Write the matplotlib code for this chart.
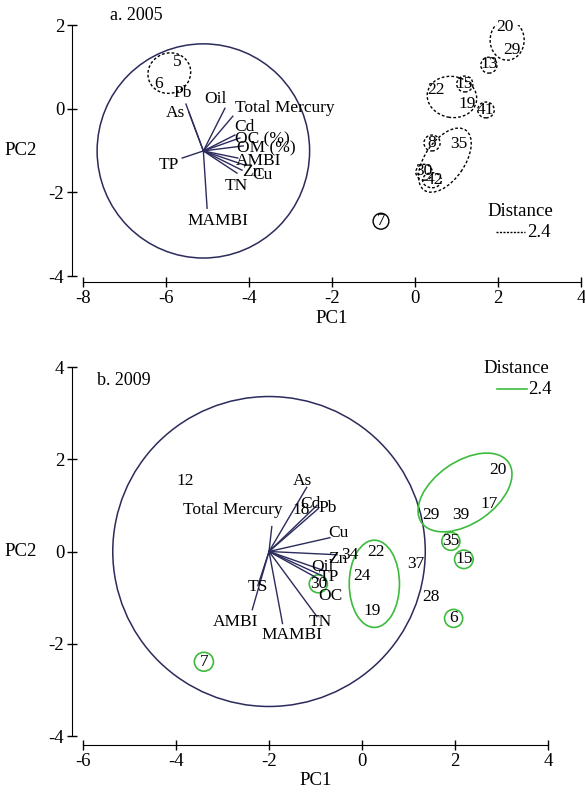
import matplotlib.pyplot as plt
from matplotlib.patches import Ellipse

plt.rcParams['font.family'] = ['Liberation Serif', 'DejaVu Serif']
plt.rcParams['font.size'] = 12.5

NAVY = '#2b2b5c'
GREEN = '#3dbb3d'

# ---- 2005 ----
origin05 = (-5.10, -1.01)
circle05_r = 2.56
vars05 = ['Pb', 'As', 'Oil', 'Total Mercury', 'Cd', 'OC (%)', 'OM (%)', 'AMBI', 'Zn', 'Cu', 'TN', 'TP', 'MAMBI']
vx05 = [-5.52, -5.45, -4.58, -4.39, -4.34, -4.22, -4.14, -4.27, -4.10, -4.17, -4.29, -5.61, -5.01]
vy05 = [0.11, -0.08, 0.01, -0.18, -0.63, -0.70, -0.89, -1.18, -1.35, -1.47, -1.54, -1.18, -2.38]
lx05 = [-5.59, -5.78, -4.80, -3.13, -4.10, -3.69, -3.59, -3.76, -3.93, -3.69, -4.31, -5.93, -4.75]
ly05 = [0.37, -0.11, 0.23, 0.01, -0.44, -0.73, -0.94, -1.25, -1.52, -1.59, -1.85, -1.35, -2.69]

sites05 = ['5', '6', '20', '29', '13', '22', '15', '19', '41', '8', '35', '30', '42', '7']
sx05 = [-5.73, -6.17, 2.17, 2.34, 1.78, 0.51, 1.18, 1.25, 1.69, 0.39, 1.06, 0.22, 0.46, -0.82]
sy05 = [1.11, 0.59, 1.95, 1.40, 1.07, 0.44, 0.59, 0.11, -0.03, -0.82, -0.85, -1.49, -1.71, -2.69]

# clusters: center x, center y, width, height, angle
clusters05 = [(-5.92, 0.85, 1.04, 0.96, 20), (2.22, 1.64, 0.82, 0.96, 0),
              (1.78, 1.04, 0.39, 0.38, 0), (0.89, 0.28, 1.20, 0.98, -10),
              (1.20, 0.59, 0.39, 0.38, 0), (1.71, -0.03, 0.40, 0.38, 0),
              (0.72, -1.23, 1.75, 0.95, 55), (0.41, -0.82, 0.39, 0.38, 0),
              (0.22, -1.52, 0.40, 0.38, 0), (0.41, -1.71, 0.45, 0.36, 0)]
single05 = (-0.82, -2.69, 0.38, 0.38)

# ---- 2009 ----
origin09 = (-2.0, 0.0)
circle09_r = 3.36
vars09 = ['As', 'Cd', 'Pb', 'Total Mercury', 'Cu', 'Zn', 'Oil', 'TP', 'OC', 'TN', 'TS', 'AMBI', 'MAMBI']
vx09 = [-1.19, -0.97, -0.94, -1.94, -0.69, -0.54, -0.83, -0.87, -0.94, -0.97, -2.24, -2.36, -1.71]
vy09 = [1.39, 1.00, 0.93, 0.54, 0.30, -0.07, -0.41, -0.52, -0.59, -1.41, -0.74, -1.26, -1.56]
lx09 = [-1.28, -1.12, -0.75, -2.78, -0.51, -0.51, -0.85, -0.72, -0.69, -0.90, -2.23, -2.71, -1.51]
ly09 = [1.52, 1.04, 0.94, 0.89, 0.40, -0.16, -0.34, -0.56, -0.97, -1.53, -0.77, -1.53, -1.82]

sites09 = ['12', '18', '34', '30', '22', '24', '19', '37', '28', '6', '29', '39', '17', '20', '35', '15', '7']
sx09 = [-3.81, -1.30, -0.27, -0.92, 0.30, -0.01, 0.21, 1.16, 1.48, 1.97, 1.48, 2.13, 2.74, 2.93, 1.91, 2.20, -3.40]
sy09 = [1.52, 0.89, -0.07, -0.70, -0.02, -0.54, -1.29, -0.28, -0.99, -1.45, 0.80, 0.80, 1.02, 1.76, 0.22, -0.16, -2.39]

clusters09 = [(0.265, -0.70, 1.08, 1.89, 0), (2.215, 1.28, 2.28, 1.34, 35),
              (1.91, 0.22, 0.39, 0.39, 0), (2.19, -0.17, 0.40, 0.40, 0),
              (1.97, -1.45, 0.39, 0.39, 0), (-0.94, -0.70, 0.39, 0.39, 0),
              (-3.40, -2.39, 0.41, 0.41, 0)]


def style_axes(ax, xlim, ylim, xticks, yticks, offset_x, offset_y):
    ax.set_xlim(xlim)
    ax.set_ylim(ylim)
    ax.set_xticks(xticks)
    ax.set_yticks(yticks)
    ax.set_xticklabels([str(t) for t in xticks])
    ax.set_yticklabels([str(t) for t in yticks])
    for s in ['top', 'right']:
        ax.spines[s].set_visible(False)
    ax.spines['left'].set_position(('outward', offset_x))
    ax.spines['bottom'].set_position(('outward', offset_y))
    ax.tick_params(direction='inout', length=7, width=1, labelsize=13.5, pad=2)


def draw_biplot(ax, origin, r, vx, vy, vars_, lx, ly):
    ax.add_patch(Ellipse(origin, 2 * r, 2 * r, fill=False, ec=NAVY, lw=1.1))
    for x, y in zip(vx, vy):
        ax.plot([origin[0], x], [origin[1], y], color=NAVY, lw=1)
    for name, x, y in zip(vars_, lx, ly):
        ax.text(x, y, name, ha='center', va='center', fontsize=12.5)


fig = plt.figure(figsize=(5.85, 7.92), dpi=100)

# top panel
ax1 = fig.add_axes([0.1419, 0.6515, 0.8513, 0.3169])
style_axes(ax1, (-8, 4), (-4, 2), [-8, -6, -4, -2, 0, 2, 4], [-4, -2, 0, 2], 8, 4.5)
draw_biplot(ax1, origin05, circle05_r, vx05, vy05, vars05, lx05, ly05)
for name, x, y in zip(sites05, sx05, sy05):
    ax1.text(x, y, name, ha='center', va='center', fontsize=12.5)
for cx, cy, w, h, a in clusters05:
    ax1.add_patch(Ellipse((cx, cy), w, h, angle=a, fill=False, ec='black',
                          lw=1, ls=(0, (2, 1.5))))
ax1.add_patch(Ellipse(single05[:2], single05[2], single05[3], fill=False, ec='black', lw=1))
ax1.text(-7.35, 2.22, 'a. 2005', ha='left', va='center', fontsize=13)
ax1.text(2.53, -2.45, 'Distance', ha='center', va='center', fontsize=13.5)
ax1.plot([1.95, 2.65], [-2.95, -2.95], color='black', lw=1, ls=(0, (1.5, 1)))
ax1.text(2.7, -2.95, '2.4', ha='left', va='center', fontsize=13.5)
ax1.set_xlabel('PC1', fontsize=13.5, labelpad=2)
ax1.set_ylabel('PC2', fontsize=13.5, rotation=0, labelpad=20, va='center')

# bottom panel
ax2 = fig.add_axes([0.1419, 0.0707, 0.7949, 0.4659])
style_axes(ax2, (-6, 4), (-4, 4), [-6, -4, -2, 0, 2, 4], [-4, -2, 0, 2, 4], 8, 6.5)
draw_biplot(ax2, origin09, circle09_r, vx09, vy09, vars09, lx09, ly09)
for name, x, y in zip(sites09, sx09, sy09):
    ax2.text(x, y, name, ha='center', va='center', fontsize=12.5)
for cx, cy, w, h, a in clusters09:
    ax2.add_patch(Ellipse((cx, cy), w, h, angle=a, fill=False, ec=GREEN, lw=1.2))
ax2.text(-5.70, 3.71, 'b. 2009', ha='left', va='center', fontsize=13)
ax2.text(3.31, 3.96, 'Distance', ha='center', va='center', fontsize=13.5, clip_on=False)
ax2.plot([2.90, 3.55], [3.52, 3.52], color=GREEN, lw=1.2, clip_on=False)
ax2.text(3.58, 3.52, '2.4', ha='left', va='center', fontsize=13.5, clip_on=False)
ax2.set_xlabel('PC1', fontsize=13.5, labelpad=2)
ax2.set_ylabel('PC2', fontsize=13.5, rotation=0, labelpad=20, va='center')

fig.savefig('out.png', dpi=100)
